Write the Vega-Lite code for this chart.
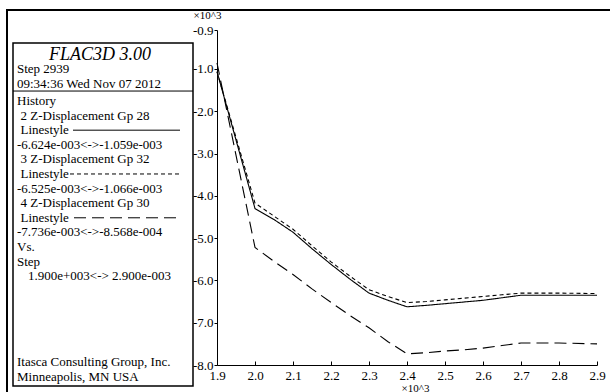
{
 "$schema": "https://vega.github.io/schema/vega-lite/v6.json",
 "width": 604,
 "height": 383,
 "autosize": {"type": "none"},
 "padding": {"left": 7, "top": 10, "right": 0, "bottom": 0},
 "background": "white",
 "config": {
  "view": {"stroke": "black", "strokeWidth": 2},
  "font": "Liberation Serif, Times New Roman, Times, serif",
  "axis": {"labelFont": "Liberation Serif, Times New Roman, Times, serif", "labelFontSize": 13, "labelColor": "black", "domainColor": "black", "tickColor": "black", "titleFont": "Liberation Serif, Times New Roman, Times, serif", "titleFontSize": 11, "titleFontWeight": "normal", "titleColor": "black", "grid": false, "domainWidth": 1, "tickWidth": 1},
  "text": {"font": "Liberation Serif, Times New Roman, Times, serif", "fontSize": 13, "color": "black"}
 },
 "datasets": {
  "history": [
   {"series": "Gp 28", "step": 1.9, "disp": -1.059},
   {"series": "Gp 28", "step": 2.0, "disp": -4.30},
   {"series": "Gp 28", "step": 2.05, "disp": -4.56},
   {"series": "Gp 28", "step": 2.1, "disp": -4.86},
   {"series": "Gp 28", "step": 2.15, "disp": -5.25},
   {"series": "Gp 28", "step": 2.2, "disp": -5.62},
   {"series": "Gp 28", "step": 2.25, "disp": -5.97},
   {"series": "Gp 28", "step": 2.3, "disp": -6.30},
   {"series": "Gp 28", "step": 2.35, "disp": -6.47},
   {"series": "Gp 28", "step": 2.4, "disp": -6.624},
   {"series": "Gp 28", "step": 2.45, "disp": -6.59},
   {"series": "Gp 28", "step": 2.5, "disp": -6.55},
   {"series": "Gp 28", "step": 2.55, "disp": -6.51},
   {"series": "Gp 28", "step": 2.6, "disp": -6.47},
   {"series": "Gp 28", "step": 2.65, "disp": -6.41},
   {"series": "Gp 28", "step": 2.7, "disp": -6.35},
   {"series": "Gp 28", "step": 2.8, "disp": -6.35},
   {"series": "Gp 28", "step": 2.9, "disp": -6.35},
   {"series": "Gp 32", "step": 1.9, "disp": -1.066},
   {"series": "Gp 32", "step": 2.0, "disp": -4.17},
   {"series": "Gp 32", "step": 2.05, "disp": -4.48},
   {"series": "Gp 32", "step": 2.1, "disp": -4.79},
   {"series": "Gp 32", "step": 2.15, "disp": -5.18},
   {"series": "Gp 32", "step": 2.2, "disp": -5.56},
   {"series": "Gp 32", "step": 2.25, "disp": -5.90},
   {"series": "Gp 32", "step": 2.3, "disp": -6.22},
   {"series": "Gp 32", "step": 2.35, "disp": -6.38},
   {"series": "Gp 32", "step": 2.4, "disp": -6.525},
   {"series": "Gp 32", "step": 2.45, "disp": -6.50},
   {"series": "Gp 32", "step": 2.5, "disp": -6.46},
   {"series": "Gp 32", "step": 2.55, "disp": -6.42},
   {"series": "Gp 32", "step": 2.6, "disp": -6.38},
   {"series": "Gp 32", "step": 2.65, "disp": -6.34},
   {"series": "Gp 32", "step": 2.7, "disp": -6.30},
   {"series": "Gp 32", "step": 2.8, "disp": -6.30},
   {"series": "Gp 32", "step": 2.9, "disp": -6.31},
   {"series": "Gp 30", "step": 1.9, "disp": -0.857},
   {"series": "Gp 30", "step": 2.0, "disp": -5.22},
   {"series": "Gp 30", "step": 2.05, "disp": -5.55},
   {"series": "Gp 30", "step": 2.1, "disp": -5.86},
   {"series": "Gp 30", "step": 2.15, "disp": -6.20},
   {"series": "Gp 30", "step": 2.2, "disp": -6.52},
   {"series": "Gp 30", "step": 2.25, "disp": -6.83},
   {"series": "Gp 30", "step": 2.3, "disp": -7.12},
   {"series": "Gp 30", "step": 2.35, "disp": -7.45},
   {"series": "Gp 30", "step": 2.4, "disp": -7.736},
   {"series": "Gp 30", "step": 2.45, "disp": -7.71},
   {"series": "Gp 30", "step": 2.5, "disp": -7.67},
   {"series": "Gp 30", "step": 2.55, "disp": -7.64},
   {"series": "Gp 30", "step": 2.6, "disp": -7.60},
   {"series": "Gp 30", "step": 2.65, "disp": -7.54},
   {"series": "Gp 30", "step": 2.7, "disp": -7.48},
   {"series": "Gp 30", "step": 2.8, "disp": -7.48},
   {"series": "Gp 30", "step": 2.9, "disp": -7.50}
  ],
  "legendText": [
   {"text": "Step 2939", "row": -2.17, "indent": 0},
   {"text": "09:34:36 Wed Nov 07 2012", "row": -1.15, "indent": 0},
   {"text": "History", "row": 0, "indent": 0},
   {"text": "2 Z-Displacement Gp 28", "row": 1, "indent": 1},
   {"text": "Linestyle", "row": 2, "indent": 1},
   {"text": "-6.624e-003<->-1.059e-003", "row": 3, "indent": 0},
   {"text": "3 Z-Displacement Gp 32", "row": 4, "indent": 1},
   {"text": "Linestyle", "row": 5, "indent": 1},
   {"text": "-6.525e-003<->-1.066e-003", "row": 6, "indent": 0},
   {"text": "4 Z-Displacement Gp 30", "row": 7, "indent": 1},
   {"text": "Linestyle", "row": 8, "indent": 1},
   {"text": "-7.736e-003<->-8.568e-004", "row": 9, "indent": 0},
   {"text": "Vs.", "row": 10, "indent": 0},
   {"text": "Step", "row": 11, "indent": 0},
   {"text": "1.900e+003<-> 2.900e-003", "row": 12, "indent": 3},
   {"text": "Itasca Consulting Group, Inc.", "row": 17.88, "indent": 0},
   {"text": "Minneapolis, MN USA", "row": 18.9, "indent": 0}
  ],
  "legendTitle": [{"text": "FLAC3D 3.00", "row": -3.18}],
  "box": [{"x0": 0, "x1": 180, "r0": -3.97, "r1": 19.52}],
  "separator": [{"x0": 0, "x1": 180, "row": -0.68}],
  "samples": [
   {"series": "Gp 28", "x0": 60, "x1": 167, "row": 2},
   {"series": "Gp 32", "x0": 57, "x1": 167, "row": 5},
   {"series": "Gp 30", "x0": 61, "x1": 166, "row": 8}
  ]
 },
 "layer": [
  {
   "data": {"name": "history"},
   "mark": {"type": "line", "color": "black", "strokeWidth": 1.1},
   "encoding": {
    "x": {"field": "step", "type": "quantitative",
     "scale": {"domain": [1.9, 2.9], "range": [210, 590], "nice": false, "zero": false},
     "axis": {"values": [1.9, 2.0, 2.1, 2.2, 2.3, 2.4, 2.5, 2.6, 2.7, 2.8, 2.9], "format": ".1f", "offset": -28, "tickSize": -4, "labelPadding": 8, "labelFlush": false, "labelOverlap": false, "title": "×10^3", "titleX": 408, "titleY": 23, "titleAlign": "center", "titleBaseline": "middle"}},
    "y": {"field": "disp", "type": "quantitative",
     "scale": {"domain": [-8, -0.078], "range": [355, 20], "nice": false, "zero": false},
     "axis": {"values": [-8, -7, -6, -5, -4, -3, -2, -1, -0.078], "format": ".1f", "labelExpr": "datum.value > -0.5 ? '-0.9' : replace(datum.label, '\u2212', '-')", "offset": -210, "tickSize": 3, "labelPadding": 1, "labelFlush": false, "labelOverlap": false, "title": "×10^3", "titleAngle": 0, "titleX": -10, "titleY": 5, "titleAlign": "center", "titleBaseline": "middle"}},
    "strokeDash": {"field": "series", "type": "nominal",
     "scale": {"domain": ["Gp 28", "Gp 32", "Gp 30"], "range": [[1, 0], [4, 3], [12, 6]]}, "legend": null}
   }
  },
  {
   "data": {"name": "box"},
   "mark": {"type": "rect", "fill": null, "stroke": "black", "strokeWidth": 1.5},
   "encoding": {
    "x": {"field": "x0", "type": "quantitative", "scale": {"domain": [0, 180], "range": [6, 186], "nice": false, "zero": false}, "axis": null},
    "x2": {"field": "x1"},
    "y": {"field": "r0", "type": "quantitative", "scale": {"domain": [-3.97, 19.52], "range": [33, 376], "nice": false, "zero": false}, "axis": null},
    "y2": {"field": "r1"}
   }
  },
  {
   "data": {"name": "separator"},
   "mark": {"type": "rule", "color": "black", "strokeWidth": 1},
   "encoding": {
    "x": {"field": "x0", "type": "quantitative", "scale": {"domain": [0, 180], "range": [6, 186], "nice": false, "zero": false}, "axis": null},
    "x2": {"field": "x1"},
    "y": {"field": "row", "type": "quantitative", "scale": {"domain": [-3.97, 19.52], "range": [33, 376], "nice": false, "zero": false}, "axis": null}
   }
  },
  {
   "data": {"name": "samples"},
   "mark": {"type": "rule", "color": "black", "strokeWidth": 1},
   "encoding": {
    "x": {"field": "x0", "type": "quantitative", "scale": {"domain": [0, 180], "range": [6, 186], "nice": false, "zero": false}, "axis": null},
    "x2": {"field": "x1"},
    "y": {"field": "row", "type": "quantitative", "scale": {"domain": [-3.97, 19.52], "range": [33, 376], "nice": false, "zero": false}, "axis": null},
    "strokeDash": {"field": "series", "type": "nominal", "legend": null}
   }
  },
  {
   "data": {"name": "legendText"},
   "transform": [{"filter": "datum.indent == 0"}],
   "mark": {"type": "text", "align": "left", "baseline": "middle", "font": "Liberation Serif, Times New Roman, Times, serif", "fontSize": 13, "color": "black"},
   "encoding": {
    "x": {"datum": 4, "type": "quantitative", "scale": {"domain": [0, 180], "range": [6, 186], "nice": false, "zero": false}, "axis": null},
    "y": {"field": "row", "type": "quantitative", "scale": {"domain": [-3.97, 19.52], "range": [33, 376], "nice": false, "zero": false}, "axis": null},
    "text": {"field": "text"}
   }
  },
  {
   "data": {"name": "legendText"},
   "transform": [{"filter": "datum.indent == 1"}],
   "mark": {"type": "text", "align": "left", "baseline": "middle", "dx": 3.5, "font": "Liberation Serif, Times New Roman, Times, serif", "fontSize": 13, "color": "black"},
   "encoding": {
    "x": {"datum": 4, "type": "quantitative", "scale": {"domain": [0, 180], "range": [6, 186], "nice": false, "zero": false}, "axis": null},
    "y": {"field": "row", "type": "quantitative", "scale": {"domain": [-3.97, 19.52], "range": [33, 376], "nice": false, "zero": false}, "axis": null},
    "text": {"field": "text"}
   }
  },
  {
   "data": {"name": "legendText"},
   "transform": [{"filter": "datum.indent == 3"}],
   "mark": {"type": "text", "align": "left", "baseline": "middle", "dx": 11, "font": "Liberation Serif, Times New Roman, Times, serif", "fontSize": 13, "color": "black"},
   "encoding": {
    "x": {"datum": 4, "type": "quantitative", "scale": {"domain": [0, 180], "range": [6, 186], "nice": false, "zero": false}, "axis": null},
    "y": {"field": "row", "type": "quantitative", "scale": {"domain": [-3.97, 19.52], "range": [33, 376], "nice": false, "zero": false}, "axis": null},
    "text": {"field": "text"}
   }
  },
  {
   "data": {"name": "legendTitle"},
   "mark": {"type": "text", "align": "center", "baseline": "middle", "font": "Liberation Serif, Times New Roman, Times, serif", "fontSize": 18, "fontStyle": "italic", "color": "black"},
   "encoding": {
    "x": {"datum": 87, "type": "quantitative", "scale": {"domain": [0, 180], "range": [6, 186], "nice": false, "zero": false}, "axis": null},
    "y": {"field": "row", "type": "quantitative", "scale": {"domain": [-3.97, 19.52], "range": [33, 376], "nice": false, "zero": false}, "axis": null},
    "text": {"field": "text"}
   }
  }
 ],
 "resolve": {"scale": {"x": "independent", "y": "independent"}}
}
